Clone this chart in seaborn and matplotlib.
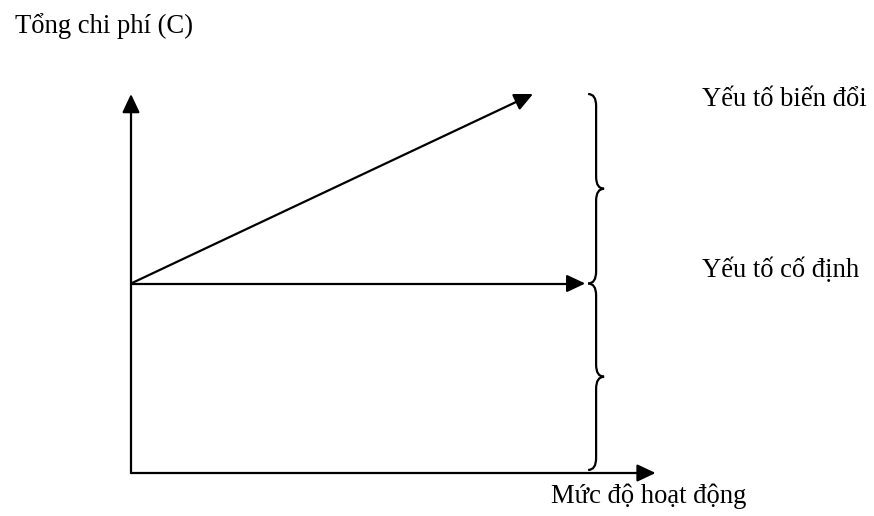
import numpy as np
import pandas as pd
import seaborn as sns
import matplotlib.pyplot as plt
from matplotlib.path import Path
from matplotlib.patches import PathPatch

# --- DATA (abstract units: activity level vs cost) ---
activity = [0, 10]
total_cost = [5, 10]          # fixed + variable
fixed_end = 11.3              # the fixed cost arrow runs a bit further
fixed_cost = [5, 5]
x_axis_end = 13.05
y_axis_end = 10.0
brace_x = 11.57

title_y = "Tổng chi phí (C)"
title_x = "Mức độ hoạt động"
label_var = "Yếu tố biến đổi"
label_fix = "Yếu tố cố định"

# pixel scale used to lay out the figure (1 unit = px)
ux, uy = 40.2, 37.9
ox, oy = 131, 473             # origin in pixels (from top-left)

sns.set_theme(style="white")
plt.rcParams["font.family"] = ["Liberation Serif", "DejaVu Serif"]
plt.rcParams["text.color"] = "black"

fig = plt.figure(figsize=(8.74, 5.16), dpi=100)
ax = fig.add_axes([0, 0, 1, 1])
ax.set_xlim(-ox / ux, (874 - ox) / ux)
ax.set_ylim(-(516 - oy) / uy, oy / uy)
ax.axis("off")

lw = 1.6
head = 0.4  # short stub the arrow head is drawn on
df = pd.DataFrame({
    "x": activity[:1] + [activity[1] - head] + [0, fixed_end - head],
    "y": total_cost[:1] + [total_cost[1] - head / 2] + fixed_cost,
    "line": ["total", "total", "fixed", "fixed"],
})
sns.lineplot(data=df, x="x", y="y", units="line", estimator=None,
             color="black", lw=lw, legend=False, ax=ax)

arrow = dict(arrowstyle="-|>,head_length=0.7,head_width=0.33", color="black",
             lw=lw, shrinkA=0, shrinkB=0, mutation_scale=16)
# axes
ax.annotate("", xy=(0, y_axis_end), xytext=(0, 0), arrowprops=arrow)
ax.annotate("", xy=(x_axis_end, 0), xytext=(0, 0), arrowprops=arrow)
# arrow heads on the cost lines
ax.annotate("", xy=(activity[1], total_cost[1]),
            xytext=(activity[1] - head, total_cost[1] - head / 2), arrowprops=arrow)
ax.annotate("", xy=(fixed_end, fixed_cost[1]),
            xytext=(fixed_end - head, fixed_cost[1]), arrowprops=arrow)


def brace(x0, y_top, y_bot):
    dx = 8 / ux
    dy = 12 / uy
    ym = (y_top + y_bot) / 2
    verts = [
        (x0 - dx, y_top), (x0, y_top), (x0, y_top - dy),
        (x0, ym + dy),
        (x0, ym), (x0 + dx, ym),
        (x0, ym), (x0, ym - dy),
        (x0, y_bot + dy),
        (x0, y_bot), (x0 - dx, y_bot),
    ]
    codes = [Path.MOVETO, Path.CURVE3, Path.CURVE3, Path.LINETO,
             Path.CURVE3, Path.CURVE3, Path.CURVE3, Path.CURVE3,
             Path.LINETO, Path.CURVE3, Path.CURVE3]
    ax.add_patch(PathPatch(Path(verts, codes), fill=False, lw=lw, color="black"))


brace(brace_x, total_cost[1], fixed_cost[0])
brace(brace_x, fixed_cost[0], 0.08)

fs = 19.2
ax.text(15 / ux - ox / ux, (oy - 33) / uy, title_y, fontsize=fs, va="baseline")
ax.text((702 - ox) / ux, (oy - 106) / uy, label_var, fontsize=fs, va="baseline")
ax.text((702 - ox) / ux, (oy - 277) / uy, label_fix, fontsize=fs, va="baseline")
ax.text((551 - ox) / ux, (oy - 503) / uy, title_x, fontsize=fs, va="baseline")

fig.savefig("out.png", dpi=100)
